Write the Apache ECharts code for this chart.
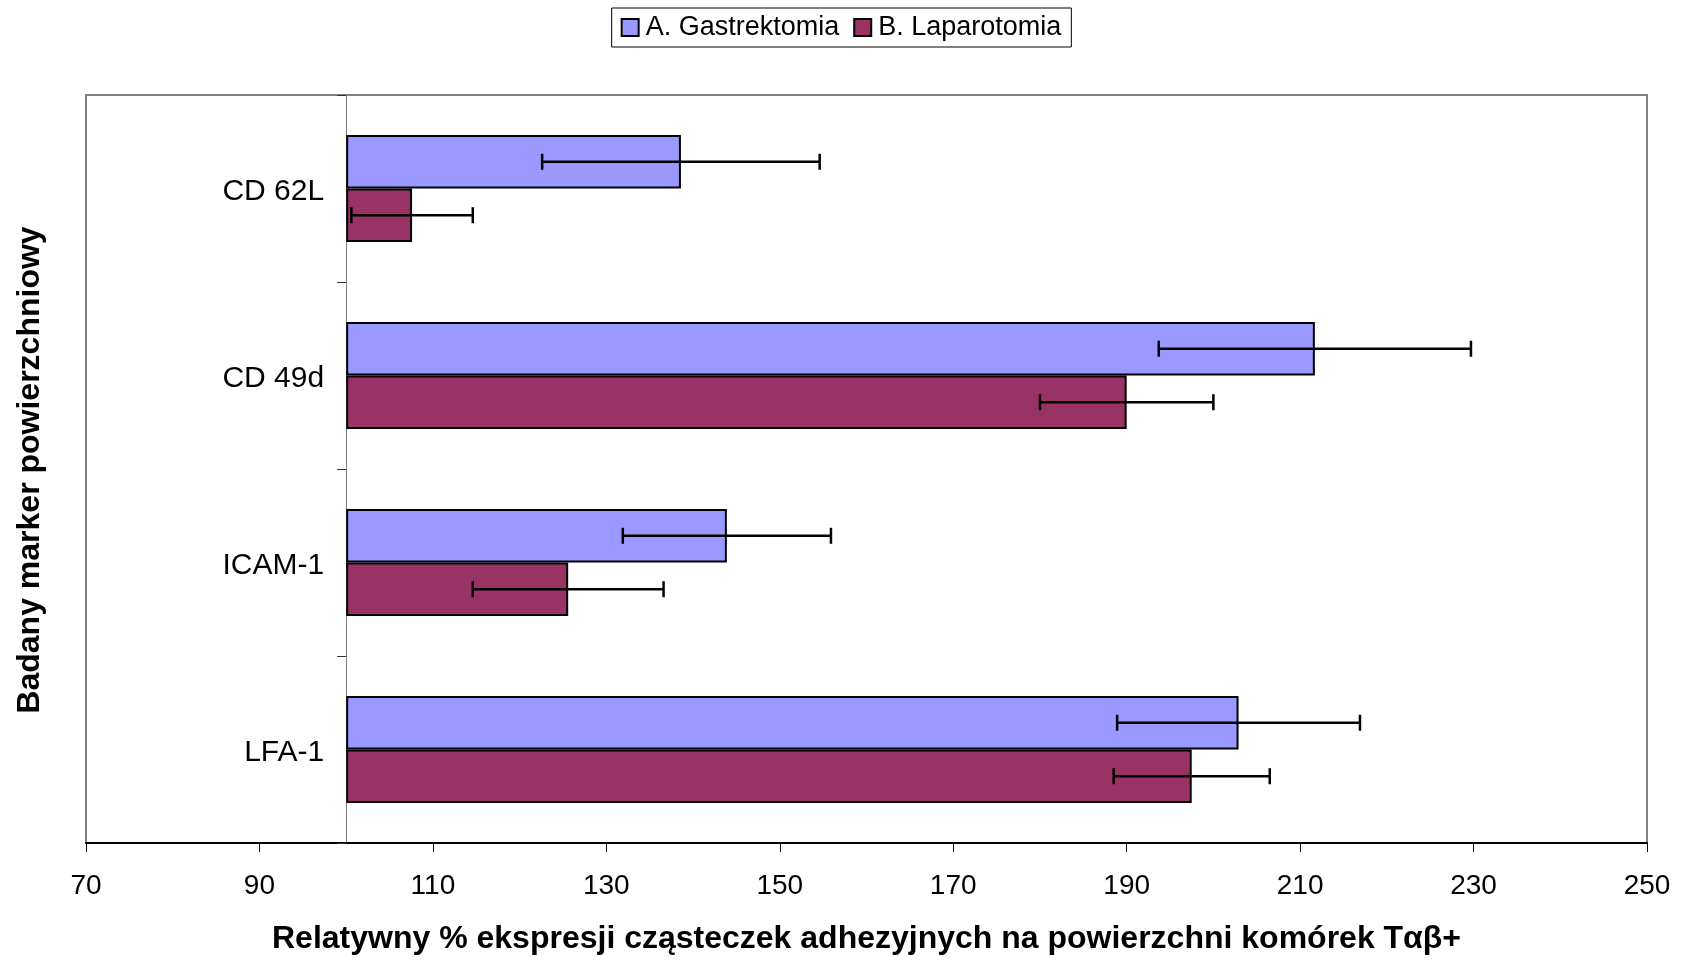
<!DOCTYPE html>
<html>
<head>
<meta charset="utf-8">
<script src="https://cdn.jsdelivr.net/npm/echarts@6/dist/echarts.min.js"></script>
<style>html,body{margin:0;padding:0;background:#fff}#c{width:1682px;height:960px}</style>
</head>
<body>
<div id="c"></div>
<script>
const categories = ['CD 62L', 'CD 49d', 'ICAM-1', 'LFA-1'];
const gastrektomia = [138.6, 211.7, 143.9, 202.9];
const gastrektomiaErr = [16, 18, 12, 14];
const laparotomia = [107.6, 190.0, 125.6, 197.5];
const laparotomiaErr = [7, 10, 11, 9];
const baseline = 100;
const xMin = 70, xMax = 250, xStep = 20;
const seriesNames = ['A. Gastrektomia', 'B. Laparotomia'];
const xTitle = 'Relatywny % ekspresji cząsteczek adhezyjnych na powierzchni komórek Tαβ+';
const yTitle = 'Badany marker powierzchniowy';

const FONT = 'Liberation Sans, Arial, sans-serif';
const W = 1682, H = 960;
const gridLeft = 86, gridRight = 35, gridTop = 95, gridBottom = 115;
const gridW = W - gridLeft - gridRight;
const yAxisOffset = -gridW * (baseline - xMin) / (xMax - xMin);

function errSeries(vals, errs, sign) {
  return {
    type: 'custom',
    z: 5,
    silent: true,
    encode: { y: 0, x: [1, 2] },
    data: vals.map((v, i) => [i, v - errs[i], v + errs[i]]),
    renderItem(params, api) {
      const cat = api.value(0);
      const p1 = api.coord([api.value(1), cat]);
      const p2 = api.coord([api.value(2), cat]);
      const band = api.size([0, 1])[1];
      const y = p1[1] + sign * band / 7;
      const cap = 8;
      const st = { stroke: '#000', lineWidth: 2.5 };
      return {
        type: 'group',
        children: [
          { type: 'line', shape: { x1: p1[0], y1: y, x2: p2[0], y2: y }, style: st },
          { type: 'line', shape: { x1: p1[0], y1: y - cap, x2: p1[0], y2: y + cap }, style: st },
          { type: 'line', shape: { x1: p2[0], y1: y - cap, x2: p2[0], y2: y + cap }, style: st }
        ]
      };
    }
  };
}

const chart = echarts.init(document.getElementById('c'), null, { renderer: 'canvas' });
chart.setOption({
  animation: false,
  backgroundColor: '#fff',
  legend: {
    data: seriesNames,
    top: 8,
    left: 'center',
    icon: 'rect',
    itemWidth: 17,
    itemHeight: 17,
    itemGap: 14,
    padding: [6, 10, 6, 9],
    borderColor: '#000',
    borderWidth: 1,
    textStyle: { fontFamily: FONT, fontSize: 27, color: '#000', padding: [2, 0, 0, 2] }
  },
  grid: {
    left: gridLeft, right: gridRight, top: gridTop, bottom: gridBottom,
    show: true, borderColor: '#808080', borderWidth: 2, backgroundColor: 'transparent',
    containLabel: false
  },
  xAxis: {
    type: 'value',
    min: xMin, max: xMax, interval: xStep,
    axisLine: { show: true, lineStyle: { color: '#000', width: 2 } },
    axisTick: { show: true, inside: false, length: 9, lineStyle: { color: '#000', width: 1 } },
    splitLine: { show: false },
    axisLabel: { fontFamily: FONT, fontSize: 28, color: '#000', margin: 29 },
    name: xTitle,
    nameLocation: 'middle',
    nameGap: 80,
    nameTextStyle: { fontFamily: FONT, fontSize: 32, fontWeight: 'bold', color: '#000' }
  },
  yAxis: {
    type: 'category',
    data: categories,
    inverse: true,
    offset: yAxisOffset,
    axisLine: { show: true, onZero: false, lineStyle: { color: '#808080', width: 1 } },
    axisTick: { show: true, inside: false, length: 9, lineStyle: { color: '#333', width: 1 } },
    splitLine: { show: false },
    axisLabel: {
      margin: 22,
      formatter: v => '{a|' + v + '}',
      rich: { a: { fontFamily: FONT, fontSize: 30, color: '#000', padding: [6, 0, 0, 0] } }
    }
  },
  graphic: [{
    type: 'text',
    x: 30, y: gridTop + (H - gridTop - gridBottom) / 2,
    rotation: Math.PI / 2,
    style: {
      text: yTitle, fill: '#000',
      font: 'bold 32px ' + FONT,
      textAlign: 'center', textVerticalAlign: 'middle'
    }
  }],
  series: [
    {
      name: 'baseA', type: 'bar', stack: 'a', silent: true,
      barGap: '0%', barCategoryGap: (300 / 7) + '%',
      itemStyle: { color: 'rgba(0,0,0,0)' },
      data: categories.map(() => baseline)
    },
    {
      name: seriesNames[0], type: 'bar', stack: 'a',
      itemStyle: { color: '#9999FF', borderColor: '#000', borderWidth: 2 },
      data: gastrektomia.map(v => v - baseline)
    },
    {
      name: 'baseB', type: 'bar', stack: 'b', silent: true,
      itemStyle: { color: 'rgba(0,0,0,0)' },
      data: categories.map(() => baseline)
    },
    {
      name: seriesNames[1], type: 'bar', stack: 'b',
      itemStyle: { color: '#993366', borderColor: '#000', borderWidth: 2 },
      data: laparotomia.map(v => v - baseline)
    },
    errSeries(gastrektomia, gastrektomiaErr, -1),
    errSeries(laparotomia, laparotomiaErr, 1)
  ]
});
</script>
</body>
</html>
